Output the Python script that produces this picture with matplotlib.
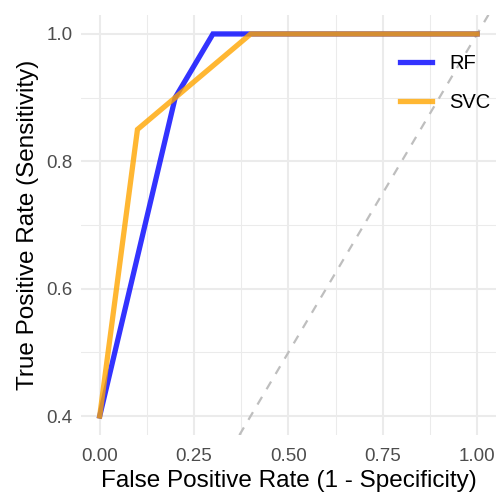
import matplotlib
matplotlib.use("Agg")
import matplotlib.pyplot as plt
import numpy as np

plt.rcParams["font.family"] = ["Liberation Sans", "DejaVu Sans"]

# ROC points
rf_fpr = [0.0, 0.2, 0.3, 1.0]
rf_tpr = [0.4, 0.9, 1.0, 1.0]
svc_fpr = [0.0, 0.1, 0.4, 1.0]
svc_tpr = [0.4, 0.85, 1.0, 1.0]

fig = plt.figure(figsize=(4.96, 4.95), dpi=100)
ax = fig.add_axes([0.163, 0.121, 0.837, 0.849])

ax.axline((0, 0), (1, 1), color="#BEBEBE", lw=1.6, ls=(0, (4, 4)), zorder=1)
ax.plot(rf_fpr, rf_tpr, color="blue", alpha=0.8, lw=3.8, label="RF", zorder=2,
        solid_joinstyle="miter")
ax.plot(svc_fpr, svc_tpr, color="orange", alpha=0.8, lw=3.8, label="SVC", zorder=3,
        solid_joinstyle="miter")

ax.set_xlim(-0.05, 1.05)
ax.set_ylim(0.37, 1.03)
ax.set_xticks([0, 0.25, 0.5, 0.75, 1.0])
ax.set_xticklabels(["0.00", "0.25", "0.50", "0.75", "1.00"])
ax.set_yticks([0.4, 0.6, 0.8, 1.0])
ax.set_yticklabels(["0.4", "0.6", "0.8", "1.0"])
ax.set_xticks([0.125, 0.375, 0.625, 0.875], minor=True)
ax.set_yticks([0.5, 0.7, 0.9], minor=True)

ax.grid(which="major", color="#EBEBEB", lw=1.5)
ax.grid(which="minor", color="#EBEBEB", lw=0.75)
ax.set_axisbelow(True)
for s in ax.spines.values():
    s.set_visible(False)
ax.tick_params(which="both", length=0, labelsize=13.5, labelcolor="#4D4D4D", pad=6)
ax.tick_params(axis="x", pad=9)

ax.set_xlabel("False Positive Rate (1 - Specificity)", fontsize=17.5, labelpad=4)
ax.set_ylabel("True Positive Rate (Sensitivity)", fontsize=17.5, labelpad=5)

leg = ax.legend(loc="upper right", bbox_to_anchor=(1.03, 0.95), frameon=False,
                fontsize=14.5, handlelength=1.6, labelspacing=1.0, handletextpad=0.85)

fig.savefig("out.png", dpi=100)
